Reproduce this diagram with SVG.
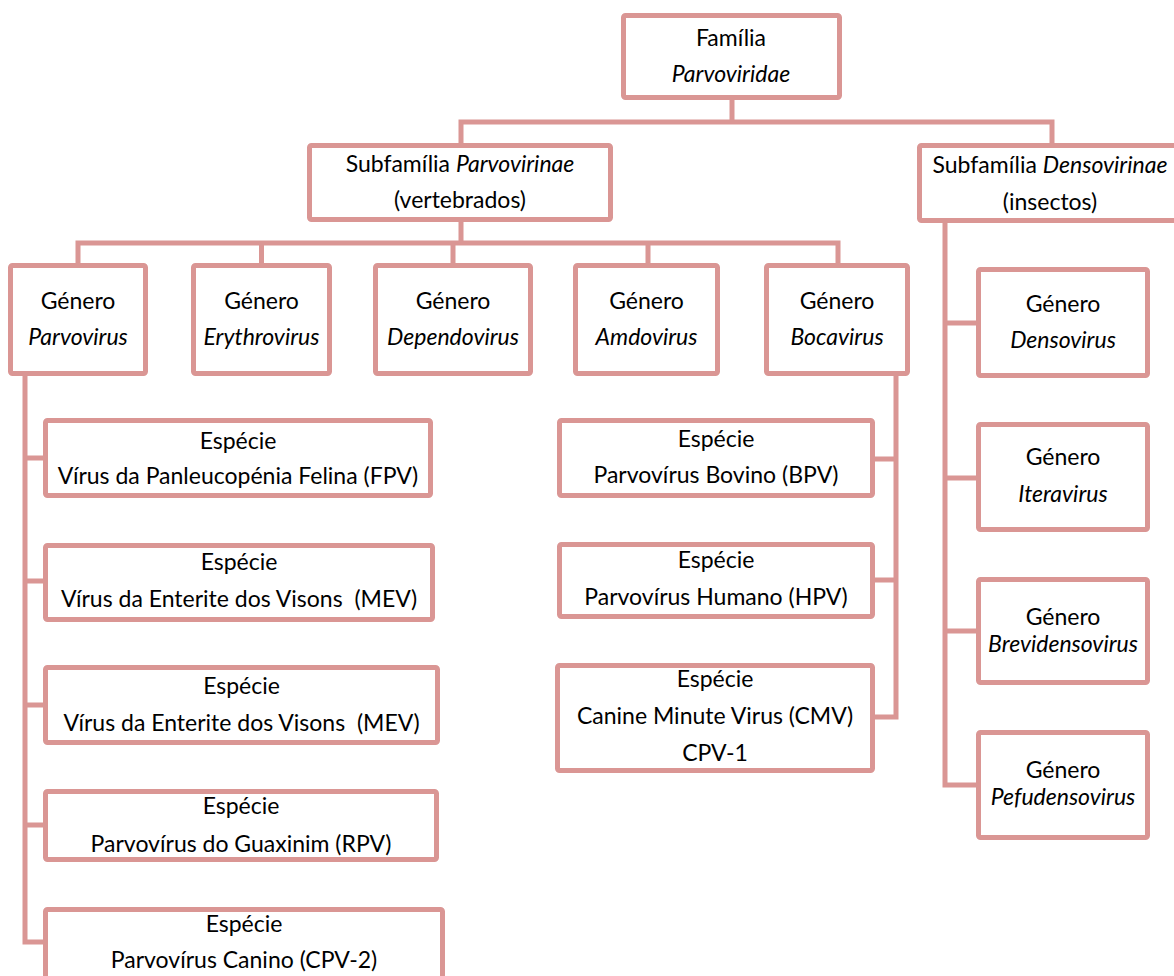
<svg xmlns="http://www.w3.org/2000/svg" width="1174" height="976" viewBox="0 0 1174 976">
<style>
.box{fill:#fff;stroke:#DA9694;stroke-width:5}
.con{fill:none;stroke:#DA9694;stroke-width:5;stroke-linejoin:miter;stroke-linecap:square}
text{font-family:Lato,"Noto Sans",sans-serif;font-size:23px;fill:#000;text-anchor:middle}
.i{font-style:italic}
</style>
<rect width="1174" height="976" fill="#fff"/>
<g id="connectors">
<path class="con" d="M732,100V122M461,143V122H1052V143"/>
<path class="con" d="M461,222V243M78,263V243H838V263M261.5,243V263M453,243V263M648,243V263"/>
<path class="con" d="M25,376V942H43M25,458H43M25,581H43M25,705H43M25,825H43"/>
<path class="con" d="M896,376V717H875M896,459H875M896,580H875"/>
<path class="con" d="M945,223V785H976M945,323H976M945,478H976M945,631H976"/>
</g>
<g id="familia"><rect class="box" x="623.5" y="15.5" width="216" height="82" rx="2"/><text x="731" y="46">Família</text><text x="731" y="82" class="i">Parvoviridae</text></g>
<g id="parvovirinae"><rect class="box" x="309.5" y="145.5" width="301" height="74" rx="2"/><text x="460" y="172">Subfamília <tspan class="i">Parvovirinae</tspan></text><text x="460" y="208">(vertebrados)</text></g>
<g id="densovirinae"><rect class="box" x="919.5" y="145.5" width="261" height="75" rx="2"/><text x="1050" y="173">Subfamília <tspan class="i">Densovirinae</tspan></text><text x="1050" y="210">(insectos)</text></g>
<g id="g-parvovirus"><rect class="box" x="10.5" y="265.5" width="135" height="108" rx="2"/><text x="78" y="309">Género</text><text x="78" y="345" class="i">Parvovirus</text></g>
<g id="g-erythrovirus"><rect class="box" x="193.5" y="265.5" width="136" height="108" rx="2"/><text x="261.5" y="309">Género</text><text x="261.5" y="345" class="i">Erythrovirus</text></g>
<g id="g-dependovirus"><rect class="box" x="375.5" y="265.5" width="155" height="108" rx="2"/><text x="453" y="309">Género</text><text x="453" y="345" class="i">Dependovirus</text></g>
<g id="g-amdovirus"><rect class="box" x="575.5" y="265.5" width="142" height="108" rx="2"/><text x="646.5" y="309">Género</text><text x="646.5" y="345" class="i">Amdovirus</text></g>
<g id="g-bocavirus"><rect class="box" x="766.5" y="265.5" width="141" height="108" rx="2"/><text x="837" y="309">Género</text><text x="837" y="345" class="i">Bocavirus</text></g>
<g id="g-densovirus"><rect class="box" x="978.5" y="269.5" width="169" height="106" rx="2"/><text x="1063" y="312">Género</text><text x="1063" y="348" class="i">Densovirus</text></g>
<g id="g-iteravirus"><rect class="box" x="978.5" y="424.5" width="169" height="105" rx="2"/><text x="1063" y="465">Género</text><text x="1063" y="502" class="i">Iteravirus</text></g>
<g id="g-brevidensovirus"><rect class="box" x="978.5" y="579.5" width="169" height="103" rx="2"/><text x="1063" y="625">Género</text><text x="1063" y="652" class="i">Brevidensovirus</text></g>
<g id="g-pefudensovirus"><rect class="box" x="978.5" y="732.5" width="169" height="105" rx="2"/><text x="1063" y="778">Género</text><text x="1063" y="805" class="i">Pefudensovirus</text></g>
<g id="s-fpv"><rect class="box" x="45.5" y="420.5" width="385" height="75" rx="2"/><text x="238" y="449">Espécie</text><text x="238" y="484">Vírus da Panleucopénia Felina (FPV)</text></g>
<g id="s-mev1"><rect class="box" x="45.5" y="545.5" width="387" height="74" rx="2"/><text x="239" y="570">Espécie</text><text x="239" y="607" xml:space="preserve">Vírus da Enterite dos Visons  (MEV)</text></g>
<g id="s-mev2"><rect class="box" x="45.5" y="667.5" width="392" height="75" rx="2"/><text x="241.5" y="694">Espécie</text><text x="241.5" y="731" xml:space="preserve">Vírus da Enterite dos Visons  (MEV)</text></g>
<g id="s-rpv"><rect class="box" x="45.5" y="791.5" width="391" height="68" rx="2"/><text x="241" y="814">Espécie</text><text x="241" y="852">Parvovírus do Guaxinim (RPV)</text></g>
<g id="s-cpv2"><rect class="box" x="45.5" y="909.5" width="397" height="80" rx="2"/><text x="244" y="932">Espécie</text><text x="244" y="968">Parvovírus Canino (CPV-2)</text></g>
<g id="s-bpv"><rect class="box" x="559.5" y="420.5" width="313" height="75" rx="2"/><text x="716" y="447">Espécie</text><text x="716" y="483">Parvovírus Bovino (BPV)</text></g>
<g id="s-hpv"><rect class="box" x="559.5" y="544.5" width="313" height="72" rx="2"/><text x="716" y="568">Espécie</text><text x="716" y="605">Parvovírus Humano (HPV)</text></g>
<g id="s-cmv"><rect class="box" x="557.5" y="665.5" width="315" height="105" rx="2"/><text x="715" y="687">Espécie</text><text x="715" y="724">Canine Minute Virus (CMV)</text><text x="715" y="761">CPV-1</text></g>
</svg>
